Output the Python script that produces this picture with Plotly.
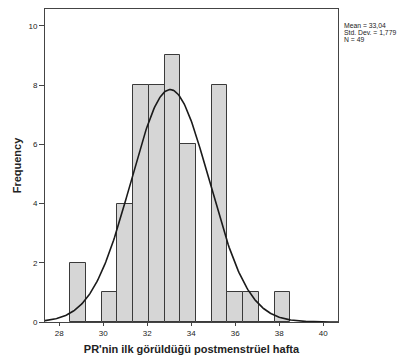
import numpy as np
import plotly.graph_objects as go

# Histogram data (bins of width 10/14 from 28.5 to 38.5)
bin_start = 28.5
bin_end = 38.5
n_bins = 14
counts = [2, 0, 1, 4, 8, 8, 9, 6, 0, 8, 1, 1, 0, 1]

# Summary statistics shown in the chart
mean_val = 33.04
sd_val = 1.779
n_val = 49
stat_lines = ["Mean = 33,04", "Std. Dev. = 1,779", "N = 49"]

x_ticks = [28, 30, 32, 34, 36, 38, 40]
y_ticks = [0, 2, 4, 6, 8, 10]

bw = (bin_end - bin_start) / n_bins
centers = [bin_start + bw * (i + 0.5) for i in range(n_bins)]

x_lo, x_hi = 27.35, 40.67
xs = np.linspace(x_lo, x_hi, 300)
ys = n_val * bw / (sd_val * np.sqrt(2 * np.pi)) * np.exp(-0.5 * ((xs - mean_val) / sd_val) ** 2)

fig = go.Figure()
fig.add_trace(go.Bar(
    x=centers, y=counts, width=bw,
    marker=dict(color="#d6d6d6", line=dict(color="#3a3a3a", width=1)),
    hoverinfo="skip",
))
fig.add_trace(go.Scatter(
    x=xs, y=ys, mode="lines",
    line=dict(color="#1a1a1a", width=1.6),
    hoverinfo="skip",
))

font_family = "Liberation Sans, Arial, sans-serif"

fig.update_layout(
    width=400, height=357,
    margin=dict(l=45, r=62, t=9, b=35),
    paper_bgcolor="white", plot_bgcolor="white",
    showlegend=False,
    bargap=0,
    font=dict(family=font_family, color="#222", size=8),
    xaxis=dict(
        range=[x_lo, x_hi], tickvals=x_ticks, automargin=False,
        showgrid=False, zeroline=False,
        showline=True, linecolor="#444", linewidth=1, mirror=True,
        ticks="outside", ticklen=3, tickcolor="#444",
        tickfont=dict(size=8),
        title=dict(text="<b>PR'nin ilk görüldüğü postmenstrüel hafta</b>",
                   font=dict(size=11, color="#222"), standoff=8),
    ),
    yaxis=dict(
        range=[0, 10.57], tickvals=y_ticks, automargin=False,
        showgrid=False, zeroline=False,
        showline=True, linecolor="#444", linewidth=1, mirror=True,
        ticks="outside", ticklen=5, tickcolor="#444",
        tickfont=dict(size=8),
        title=dict(text="<b>Frequency</b>", font=dict(size=11, color="#222"), standoff=4),
    ),
)

plot_top_px, plot_h_px = 9, 313
for i, line in enumerate(stat_lines):
    ypx = 25.5 + 7.2 * i
    fig.add_annotation(
        xref="paper", yref="paper", x=1.016, y=1 - (ypx - plot_top_px) / plot_h_px,
        xanchor="left", yanchor="middle", borderpad=0,
        text=line, showarrow=False, align="left",
        font=dict(size=6.8, color="#222", family=font_family),
    )

fig.write_html(
    "out.html",
    config={"displayModeBar": False},
    post_script="document.body.style.margin='0';document.body.style.overflow='hidden';",
)
